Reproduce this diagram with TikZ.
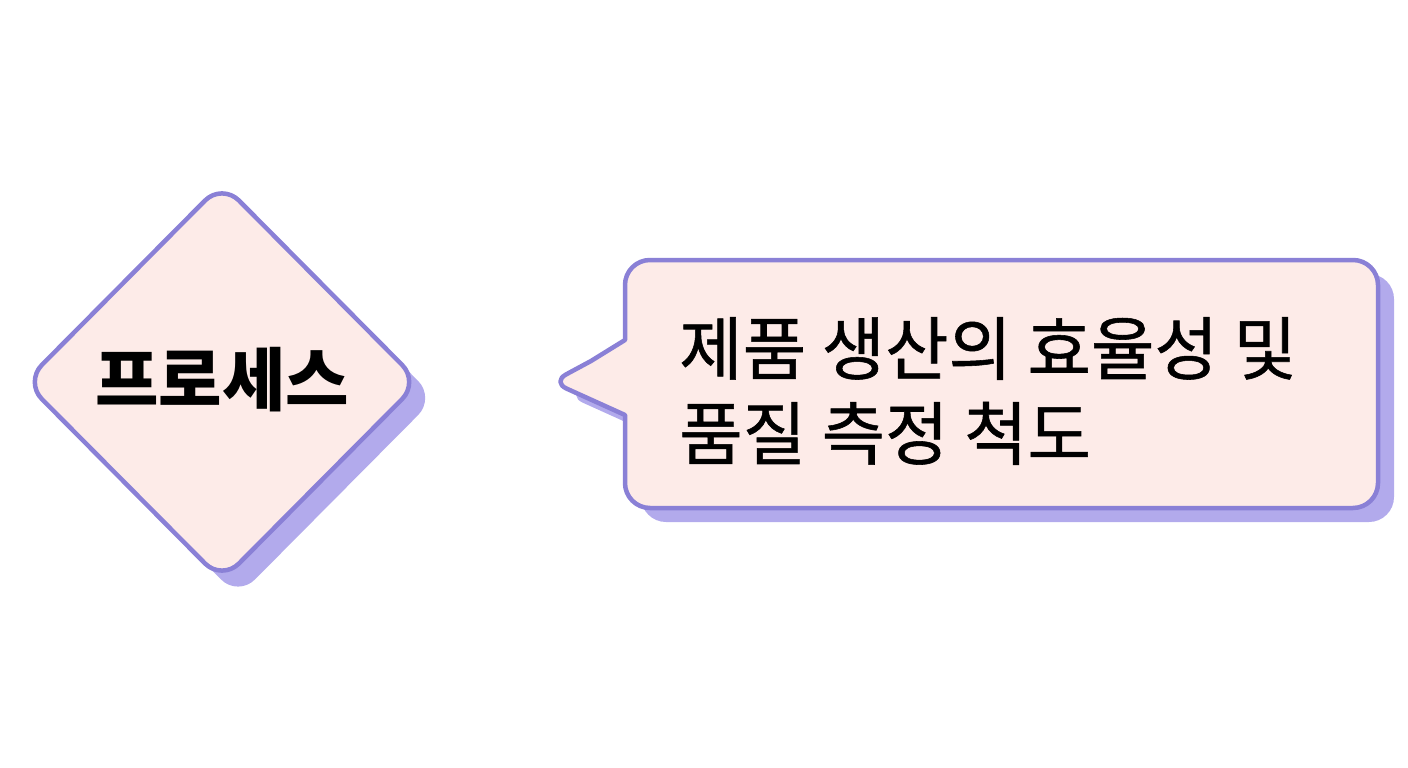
\documentclass[tikz,border=0pt]{standalone}
\usepackage{fontspec}
\newfontfamily\kr{Noto Sans CJK KR}
\newfontfamily\krm[FakeBold=0.8]{Noto Sans CJK KR}
\usetikzlibrary{shapes.geometric,shadows}
\definecolor{fillc}{HTML}{FDEBE8}
\definecolor{linec}{HTML}{8A80D6}
\definecolor{shadc}{HTML}{B2AAEC}
\begin{document}
\begin{tikzpicture}[x=1pt,y=-1pt,
  shapeline/.style={draw=linec, line width=4.5pt, fill=fillc, line join=round},
  shadowfill/.style={fill=shadc, draw=none}]
\useasboundingbox (0,0) rectangle (1408,768);
% diamond
\node[diamond, shapeline, minimum width=396pt, minimum height=399pt, inner sep=0pt,
  rounded corners=24pt,
  drop shadow={shadow xshift=16pt, shadow yshift=-16pt, fill=shadc, opacity=1}]
  (d) at (222,382) {};
\node[font=\kr\bfseries\fontsize{69}{75}\selectfont, text=black] (dt) at (222,380) {프로세스};
% callout shadow
\begin{scope}[shift={(16,14)}]
\path[shadowfill] (591,361) -- (625,340) [rounded corners=25pt] -- (625,260) -- (1378,260) -- (1378,508) -- (625,508) [sharp corners] -- (625,415) [rounded corners=16pt] -- (552,382) [sharp corners] -- cycle;
\end{scope}
% callout
\path[shapeline] (591,361) -- (625,340) [rounded corners=25pt] -- (625,260) -- (1378,260) -- (1378,508) -- (625,508) [sharp corners] -- (625,415) [rounded corners=16pt] -- (552,382) [sharp corners] -- cycle;
\node[font=\krm\fontsize{69}{85}\selectfont, text=black, anchor=west, align=left, inner sep=0pt] (ct) at (679,391) {제품 생산의 효율성 및\\품질 측정 척도};
\end{tikzpicture}
\end{document}
